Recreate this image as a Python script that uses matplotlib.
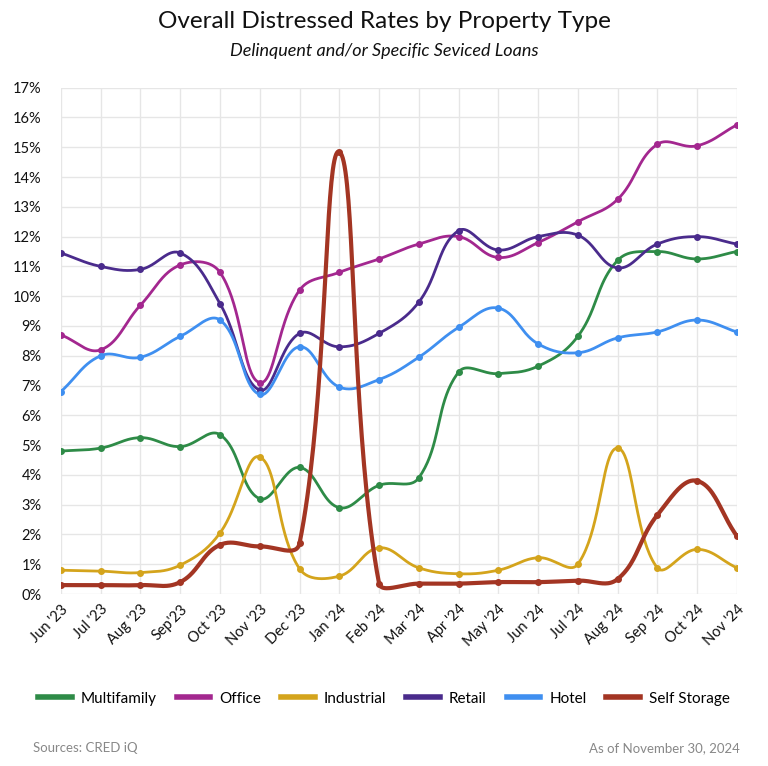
import numpy as np
import matplotlib
matplotlib.use("Agg")
import matplotlib.pyplot as plt
from matplotlib.ticker import FuncFormatter

plt.rcParams['font.family'] = ['Lato', 'DejaVu Sans']

# data
months = ["Jun '23", "Jul '23", "Aug '23", "Sep'23", "Oct '23", "Nov '23", "Dec '23",
          "Jan '24", "Feb '24", "Mar '24", "Apr '24", "May '24", "Jun '24", "Jul '24",
          "Aug '24", "Sep '24", "Oct '24", "Nov '24"]
multifamily = [4.8, 4.9, 5.25, 4.95, 5.35, 3.2, 4.25, 2.9, 3.65, 3.9, 7.45, 7.4, 7.65, 8.65, 11.2, 11.5, 11.25, 11.5]
office = [8.7, 8.2, 9.7, 11.05, 10.8, 7.1, 10.2, 10.8, 11.25, 11.75, 12.0, 11.3, 11.8, 12.5, 13.25, 15.1, 15.05, 15.75]
industrial = [0.8, 0.77, 0.72, 0.97, 2.05, 4.6, 0.85, 0.6, 1.55, 0.88, 0.68, 0.8, 1.22, 1.0, 4.9, 0.88, 1.5, 0.88]
retail = [11.45, 11.0, 10.9, 11.45, 9.75, 6.85, 8.75, 8.3, 8.75, 9.8, 12.2, 11.55, 12.0, 12.05, 10.95, 11.75, 12.0, 11.75]
hotel = [6.8, 8.0, 7.95, 8.65, 9.2, 6.7, 8.3, 6.95, 7.2, 7.95, 8.95, 9.6, 8.4, 8.1, 8.6, 8.8, 9.2, 8.8]
self_storage = [0.3, 0.3, 0.3, 0.4, 1.65, 1.6, 1.7, 14.85, 0.35, 0.35, 0.35, 0.4, 0.4, 0.45, 0.5, 2.65, 3.8, 1.95]

series = [
    ("Multifamily", multifamily, "#2e8b47", 2.0),
    ("Office", office, "#a3278f", 2.0),
    ("Industrial", industrial, "#d4a41c", 2.0),
    ("Retail", retail, "#4a2b8c", 2.0),
    ("Hotel", hotel, "#3f8ff0", 2.0),
    ("Self Storage", self_storage, "#a33523", 3.0),
]

YMAX = 17
# pixel size of one x step and one y unit, used for the spline weighting
XPX, YPX = 39.8, 29.76


def smooth(y, tension=0.4, n=40):
    # chart.js-like spline: control points weighted by distances, capped to the chart area
    y = np.asarray(y, float)
    px = np.arange(len(y)) * XPX
    py = y * YPX
    N = len(y)
    cp_prev = np.zeros((N, 2))
    cp_next = np.zeros((N, 2))
    for i in range(N):
        a = max(i - 1, 0)
        b = min(i + 1, N - 1)
        d01 = np.hypot(px[i] - px[a], py[i] - py[a])
        d12 = np.hypot(px[b] - px[i], py[b] - py[i])
        tot = d01 + d12
        s01 = d01 / tot if tot else 0
        s12 = d12 / tot if tot else 0
        fa, fb = tension * s01, tension * s12
        dx, dy = px[b] - px[a], py[b] - py[a]
        cp_prev[i] = [px[i] - fa * dx, py[i] - fa * dy]
        cp_next[i] = [px[i] + fb * dx, py[i] + fb * dy]
    for cp in (cp_prev, cp_next):
        cp[:, 0] = np.clip(cp[:, 0], 0, px[-1])
        cp[:, 1] = np.clip(cp[:, 1], 0, YMAX * YPX)
    xs, ys = [], []
    t = np.linspace(0, 1, n, endpoint=False)[:, None]
    for i in range(N - 1):
        p0 = np.array([px[i], py[i]])
        p3 = np.array([px[i + 1], py[i + 1]])
        p1, p2 = cp_next[i], cp_prev[i + 1]
        pts = (1 - t)**3 * p0 + 3 * (1 - t)**2 * t * p1 + 3 * (1 - t) * t**2 * p2 + t**3 * p3
        xs.append(pts[:, 0])
        ys.append(pts[:, 1])
    xs.append([px[-1]])
    ys.append([py[-1]])
    return np.concatenate(xs) / XPX, np.concatenate(ys) / YPX


fig = plt.figure(figsize=(7.68, 7.66), dpi=100)
ax = fig.add_axes([0.0794, 0.2245, 0.880, 0.661])

x = np.arange(len(months))
for name, vals, color, lw in series:
    sx, sy = smooth(vals)
    ax.plot(sx, sy, color=color, lw=lw, label=name, solid_capstyle='round')
    ax.plot(x, vals, 'o', color=color, ms=4, zorder=3)

ax.set_xlim(0, len(months) - 1)
ax.set_ylim(0, YMAX)
ax.set_yticks(range(0, YMAX + 1))
ax.yaxis.set_major_formatter(FuncFormatter(lambda v, p: f"{int(v)}%"))
ax.set_xticks(x)
ax.set_xticklabels(months, rotation=45, ha='right', rotation_mode='anchor')
ax.tick_params(axis='both', length=0, labelsize=10.5, colors='#111111')
ax.tick_params(axis='x', pad=6)
ax.tick_params(axis='y', pad=14)
ax.grid(True, color='#e6e6e6', lw=1)
ax.set_axisbelow(True)
for s in ax.spines.values():
    s.set_visible(False)

fig.text(0.5, 0.972, "Overall Distressed Rates by Property Type", ha='center', va='center',
         fontsize=17.5, color='#111111')
fig.text(0.5, 0.933, "Delinquent and/or Specific Seviced Loans", ha='center', va='center',
         fontsize=13, style='italic', color='#111111')

handles = [plt.Line2D([0], [0], color=c, lw=4) for _, _, c, _ in series]
fig.legend(handles, [s[0] for s in series], loc='center', bbox_to_anchor=(0.5, 0.088),
           ncol=6, frameon=False, fontsize=11, handlelength=2.2, columnspacing=1.3,
           handletextpad=0.6)

fig.text(0.043, 0.023, "Sources: CRED iQ", ha='left', va='center', fontsize=9.5, color='#888888')
fig.text(0.964, 0.023, "As of November 30, 2024", ha='right', va='center', fontsize=9.5, color='#888888')

fig.savefig("out.png", dpi=100, facecolor='white')
